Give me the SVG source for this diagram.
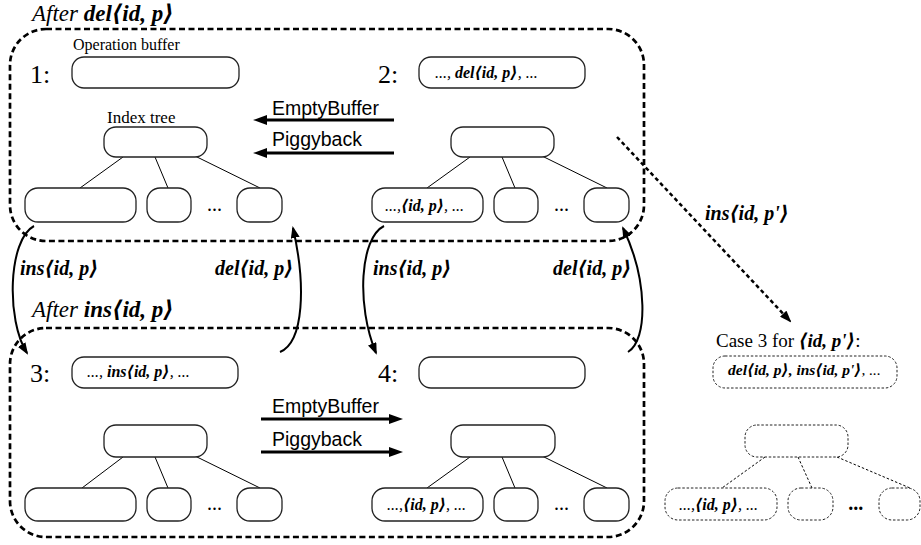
<svg xmlns="http://www.w3.org/2000/svg" width="921" height="545" viewBox="0 0 921 545">
<style>
.cont{fill:none;stroke:#000;stroke-width:2.7;stroke-dasharray:6 3.5}
.buf{fill:#fff;stroke:#222;stroke-width:1.3}
.dot{fill:#fff;stroke:#222;stroke-width:1;stroke-dasharray:2.5 1.8}
.edge{stroke:#000;stroke-width:1;fill:none}
.dedge{stroke:#000;stroke-width:1;stroke-dasharray:2.5 2;fill:none}
.arr{stroke:#000;stroke-width:3;fill:none}
.curve{stroke:#000;stroke-width:2;fill:none}
.diag{stroke:#000;stroke-width:2.5;stroke-dasharray:4 3;fill:none}
.serif{font-family:"Liberation Serif","DejaVu Serif",serif;fill:#000}
.sans{font-family:"Liberation Sans",Arial,sans-serif;font-size:19.5px;fill:#000}
.num{font-family:"Liberation Serif",serif;font-size:26px}
.bi{font-weight:bold;font-style:italic}
.i{font-style:italic}
</style>
<defs>
<marker id="ah" markerWidth="14" markerHeight="10" refX="1" refY="5" orient="auto" markerUnits="userSpaceOnUse"><path d="M0,0 L14,5 L0,10 z" fill="#000"/></marker>
<marker id="ch" markerWidth="12" markerHeight="9" refX="10" refY="4.5" orient="auto" markerUnits="userSpaceOnUse"><path d="M0,0 L12,4.5 L0,9 z" fill="#000"/></marker>
</defs>

<g id="container-top">
<rect class="cont" x="10" y="29" width="634" height="212" rx="36"/>
<text class="serif" x="32" y="21" font-size="23"><tspan class="i">After </tspan><tspan class="bi">del⟨id, p⟩</tspan></text>
</g>
<g id="container-bottom">
<rect class="cont" x="10" y="328" width="634" height="209" rx="36"/>
<text class="serif" x="32" y="317" font-size="23"><tspan class="i">After </tspan><tspan class="bi">ins⟨id, p⟩</tspan></text>
</g>

<g id="buffer1">
<text class="serif" x="73" y="50" font-size="16">Operation buffer</text>
<text class="serif num" x="30" y="83">1:</text>
<rect class="buf" x="72" y="57" width="167" height="31" rx="12"/>
</g>
<g id="buffer2">
<text class="serif num" x="378" y="83">2:</text>
<rect class="buf" x="419" y="57" width="166" height="31" rx="12"/>
<text class="serif" x="435" y="78" font-size="16"><tspan class="i">..., </tspan><tspan class="bi">del⟨id, p⟩</tspan><tspan class="i">, ...</tspan></text>
</g>
<g id="buffer3">
<text class="serif num" x="30" y="382">3:</text>
<rect class="buf" x="72" y="357" width="166" height="31" rx="12"/>
<text class="serif" x="87" y="377" font-size="16"><tspan class="i">..., </tspan><tspan class="bi">ins⟨id, p⟩</tspan><tspan class="i">, ...</tspan></text>
</g>
<g id="buffer4">
<text class="serif num" x="378" y="382">4:</text>
<rect class="buf" x="419" y="357" width="166" height="31" rx="12"/>
</g>

<g id="tree1">
<text class="serif" x="107" y="123" font-size="17">Index tree</text>
<line class="edge" x1="123" y1="157" x2="80" y2="188"/>
<line class="edge" x1="155" y1="157" x2="168" y2="188"/>
<line class="edge" x1="195" y1="156" x2="260" y2="188"/>
<rect class="buf" x="104" y="127" width="103" height="30" rx="12"/>
<rect class="buf" x="25" y="188" width="111" height="34" rx="13"/>
<rect class="buf" x="147" y="188" width="44" height="34" rx="13"/>
<text class="serif" x="207" y="211" font-size="20">...</text>
<rect class="buf" x="237" y="188" width="45" height="34" rx="13"/>
</g>
<g id="tree2">
<line class="edge" x1="470" y1="157" x2="427" y2="188"/>
<line class="edge" x1="502" y1="157" x2="515" y2="188"/>
<line class="edge" x1="542" y1="156" x2="607" y2="188"/>
<rect class="buf" x="451" y="127" width="103" height="30" rx="12"/>
<rect class="buf" x="372" y="188" width="111" height="34" rx="13"/>
<text class="serif" x="385" y="211" font-size="16"><tspan class="i">...,</tspan><tspan class="bi">⟨id, p⟩</tspan><tspan class="i">, ...</tspan></text>
<rect class="buf" x="494" y="188" width="44" height="34" rx="13"/>
<text class="serif" x="554" y="211" font-size="20">...</text>
<rect class="buf" x="584" y="188" width="45" height="34" rx="13"/>
</g>
<g id="tree3">
<line class="edge" x1="123" y1="457" x2="82" y2="488"/>
<line class="edge" x1="155" y1="457" x2="168" y2="488"/>
<line class="edge" x1="195" y1="456" x2="260" y2="488"/>
<rect class="buf" x="104" y="425" width="103" height="32" rx="12"/>
<rect class="buf" x="25" y="488" width="111" height="33" rx="13"/>
<rect class="buf" x="147" y="488" width="44" height="33" rx="13"/>
<text class="serif" x="207" y="510" font-size="20">...</text>
<rect class="buf" x="237" y="488" width="45" height="33" rx="13"/>
</g>
<g id="tree4">
<line class="edge" x1="470" y1="457" x2="427" y2="488"/>
<line class="edge" x1="502" y1="457" x2="515" y2="488"/>
<line class="edge" x1="542" y1="456" x2="607" y2="488"/>
<rect class="buf" x="451" y="425" width="104" height="32" rx="12"/>
<rect class="buf" x="372" y="488" width="111" height="33" rx="13"/>
<text class="serif" x="387" y="510" font-size="16"><tspan class="i">...,</tspan><tspan class="bi">⟨id, p⟩</tspan><tspan class="i">, ...</tspan></text>
<rect class="buf" x="494" y="488" width="44" height="33" rx="13"/>
<text class="serif" x="554" y="510" font-size="20">...</text>
<rect class="buf" x="584" y="488" width="45" height="33" rx="13"/>
</g>

<g id="case3">
<text class="serif" x="716" y="347" font-size="19">Case 3 for <tspan class="bi">⟨id, p'⟩</tspan>:</text>
<rect class="dot" x="713" y="356" width="184" height="32" rx="12"/>
<text class="serif" x="728" y="375" font-size="15.5"><tspan class="bi">del⟨id, p⟩, ins⟨id, p'⟩</tspan><tspan class="i">, ...</tspan></text>
</g>
<g id="tree5">
<line class="dedge" x1="765" y1="457" x2="722" y2="488"/>
<line class="dedge" x1="798" y1="457" x2="812" y2="488"/>
<line class="dedge" x1="837" y1="457" x2="910" y2="488"/>
<rect class="dot" x="745" y="425" width="103" height="32" rx="12"/>
<rect class="dot" x="665" y="488" width="112" height="32" rx="13"/>
<text class="serif" x="679" y="510" font-size="16"><tspan class="i">...,</tspan><tspan class="bi">⟨id, p⟩</tspan><tspan class="i">, ...</tspan></text>
<rect class="dot" x="788" y="488" width="45" height="32" rx="13"/>
<text class="serif bi" x="849" y="510" font-size="20">...</text>
<rect class="dot" x="879" y="488" width="41" height="32" rx="13"/>
</g>

<g id="connectors">
<line class="arr" x1="394" y1="120" x2="266" y2="120" marker-end="url(#ah)"/>
<text class="sans" x="272" y="115">EmptyBuffer</text>
<line class="arr" x1="394" y1="153" x2="266" y2="153" marker-end="url(#ah)"/>
<text class="sans" x="272" y="146">Piggyback</text>
<line class="arr" x1="261" y1="419" x2="390" y2="419" marker-end="url(#ah)"/>
<text class="sans" x="272" y="413">EmptyBuffer</text>
<line class="arr" x1="261" y1="452" x2="390" y2="452" marker-end="url(#ah)"/>
<text class="sans" x="272" y="446">Piggyback</text>

<path class="curve" d="M34,226 C8,240 6,320 27,353" marker-end="url(#ch)"/>
<text class="serif bi" x="20" y="275" font-size="20">ins⟨id, p⟩</text>
<path class="curve" d="M280,352 C304,342 306,285 293,228" marker-end="url(#ch)"/>
<text class="serif bi" x="215" y="275" font-size="20">del⟨id, p⟩</text>
<path class="curve" d="M384,226 C360,238 356,305 376,353" marker-end="url(#ch)"/>
<text class="serif bi" x="373" y="275" font-size="20">ins⟨id, p⟩</text>
<path class="curve" d="M628,352 C648,340 648,280 623,228" marker-end="url(#ch)"/>
<text class="serif bi" x="553" y="275" font-size="20">del⟨id, p⟩</text>

<path class="diag" d="M617,137 L790,321" marker-end="url(#ch)"/>
<text class="serif bi" x="705" y="220" font-size="20">ins⟨id, p'⟩</text>
</g>
</svg>
